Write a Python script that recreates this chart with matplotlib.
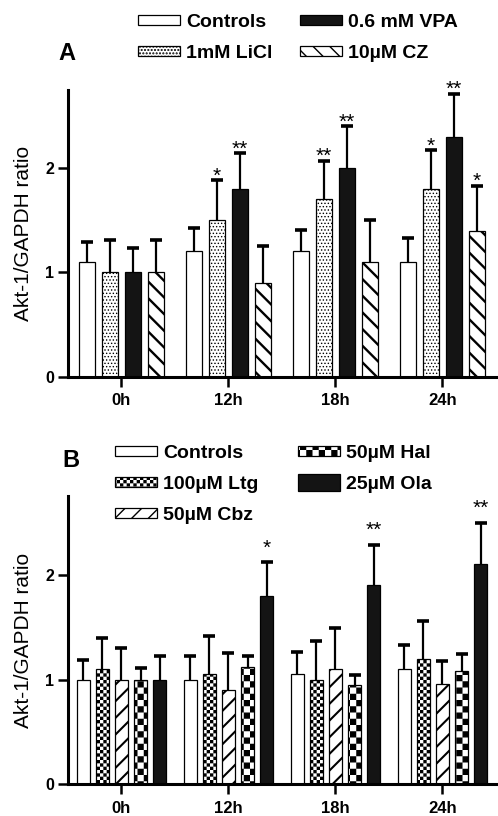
import numpy as np
import matplotlib
matplotlib.use('Agg')
import matplotlib.pyplot as plt
import matplotlib.hatch as mhatch
from matplotlib.path import Path
from matplotlib.patches import Rectangle
from matplotlib.legend_handler import HandlerPatch

plt.rcParams['font.family'] = ['Liberation Sans', 'DejaVu Sans']
plt.rcParams['font.weight'] = 'bold'
plt.rcParams['hatch.linewidth'] = 1.0

times = ['0h', '12h', '18h', '24h']

# panel A: means and upper error (SD)
a_labels = ['Controls', '1mM LiCl', '0.6 mM VPA', '10µM CZ']
a_controls = [1.10, 1.20, 1.20, 1.10]
a_licl = [1.00, 1.50, 1.70, 1.80]
a_vpa = [1.00, 1.80, 2.00, 2.30]
a_cz = [1.00, 0.90, 1.10, 1.40]
a_controls_err = [0.19, 0.22, 0.21, 0.23]
a_licl_err = [0.31, 0.38, 0.37, 0.37]
a_vpa_err = [0.23, 0.34, 0.40, 0.41]
a_cz_err = [0.31, 0.35, 0.40, 0.43]
a_controls_sig = ['', '', '', '']
a_licl_sig = ['', '*', '**', '*']
a_vpa_sig = ['', '**', '**', '**']
a_cz_sig = ['', '', '', '*']

# panel B
b_labels = ['Controls', '100µM Ltg', '50µM Cbz', '50µM Hal', '25µM Ola']
b_controls = [1.00, 1.00, 1.05, 1.10]
b_ltg = [1.10, 1.05, 1.00, 1.20]
b_cbz = [1.00, 0.90, 1.10, 0.96]
b_hal = [1.00, 1.12, 0.95, 1.08]
b_ola = [1.00, 1.80, 1.90, 2.10]
b_controls_err = [0.19, 0.23, 0.21, 0.23]
b_ltg_err = [0.30, 0.37, 0.37, 0.36]
b_cbz_err = [0.30, 0.35, 0.39, 0.22]
b_hal_err = [0.11, 0.11, 0.09, 0.16]
b_ola_err = [0.23, 0.32, 0.39, 0.40]
b_ola_sig = ['', '*', '**', '**']
no_sig = ['', '', '', '']


class CheckerHatch(mhatch.HatchPatternBase):
    # checkerboard fill, takes over the 'O' hatch letter
    def __init__(self, hatch, density):
        self.num_cells = hatch.count('O') * 2
        self.num_vertices = 5 * self.num_cells ** 2 // 2

    def set_vertices_and_codes(self, vertices, codes):
        n = self.num_cells
        step = 1.0 / n
        pad = plt.rcParams['hatch.linewidth'] / 144.0
        k = 0
        for i in range(n):
            for j in range(n):
                if (i + j) % 2:
                    continue
                x0, y0 = i * step + pad, j * step + pad
                x1, y1 = (i + 1) * step - pad, (j + 1) * step - pad
                vertices[k:k + 5] = [(x0, y0), (x1, y0), (x1, y1), (x0, y1), (x0, y0)]
                codes[k:k + 5] = [Path.MOVETO, Path.LINETO, Path.LINETO,
                                  Path.LINETO, Path.CLOSEPOLY]
                k += 5


mhatch._hatch_types[mhatch._hatch_types.index(mhatch.LargeCircles)] = CheckerHatch


def tall_box(legend, orig_handle, xdescent, ydescent, width, height, fontsize):
    # the olanzapine key is drawn taller than the others
    return Rectangle((-xdescent, -ydescent - 0.3 * height), width, 1.6 * height)


def draw_panel(ax, series, errs, sigs, labels, colors, hatches, hatch_lws,
               step, width, star_pad):
    x = np.arange(len(times))
    n = len(series)
    handles = []
    for k in range(n):
        pos = x + (k - (n - 1) / 2) * step
        with plt.rc_context({'hatch.linewidth': hatch_lws[k]}):
            b = ax.bar(pos, series[k], width, color=colors[k], edgecolor='black',
                       linewidth=0.9, hatch=hatches[k], label=labels[k], zorder=2)
        handles.append(b.patches[0])
        tops = np.array(series[k]) + np.array(errs[k])
        ax.vlines(pos, series[k], tops, color='black', lw=1.6, zorder=3)
        ax.plot(pos, tops, ls='none', marker='_', ms=8, mew=2.6,
                color='black', zorder=3)
        for p, t, s in zip(pos, tops, sigs[k]):
            if s:
                ax.annotate(s, (p, t), xytext=(0, star_pad),
                            textcoords='offset points', ha='center',
                            va='center', fontsize=15, fontweight='normal')

    ax.set_xlim(-0.5, 3.5)
    ax.set_ylim(0, 2.75)
    ax.set_xticks(x, times)
    ax.set_yticks([0, 1, 2])
    ax.tick_params(direction='out', length=7, width=1.8)
    ax.tick_params(axis='x', labelsize=12, pad=5)
    ax.tick_params(axis='y', labelsize=11.5, pad=3)
    for side in ['top', 'right']:
        ax.spines[side].set_visible(False)
    for side in ['left', 'bottom']:
        ax.spines[side].set_linewidth(2.2)
    ax.set_ylabel('Akt-1/GAPDH ratio', fontsize=15, labelpad=9)
    return handles


fig = plt.figure(figsize=(4.98, 8.16), dpi=100)

ax_a = fig.add_axes([0.1365, 0.5384, 0.8594, 0.3517])
draw_panel(ax_a,
           [a_controls, a_licl, a_vpa, a_cz],
           [a_controls_err, a_licl_err, a_vpa_err, a_cz_err],
           [a_controls_sig, a_licl_sig, a_vpa_sig, a_cz_sig],
           a_labels,
           ['white', 'white', '#141414', 'white'],
           [None, '.....', None, '\\\\'],
           [1.0, 0.6, 1.0, 1.7],
           0.215, 0.15, 3)
ax_a.legend(loc='upper left', bbox_to_anchor=(138 / 498, 1 - 14 / 816),
            bbox_transform=fig.transFigure, ncol=2, frameon=False,
            fontsize=14, handlelength=2.16, handleheight=0.46,
            handletextpad=0.3, columnspacing=1.45, labelspacing=0.72,
            borderpad=0, borderaxespad=0)
fig.text(58 / 498, 1 - 60 / 816, 'A', fontsize=17, fontweight='bold')

ax_b = fig.add_axes([0.1365, 0.0388, 0.8594, 0.3529])
handles_b = draw_panel(ax_b,
                       [b_controls, b_ltg, b_cbz, b_hal, b_ola],
                       [b_controls_err, b_ltg_err, b_cbz_err, b_hal_err, b_ola_err],
                       [no_sig, no_sig, no_sig, no_sig, b_ola_sig],
                       b_labels,
                       ['white', 'white', 'white', 'white', '#141414'],
                       [None, 'O' * 15, '//', 'O' * 8, None],
                       [1.0, 1.0, 1.5, 1.0, 1.0],
                       0.178, 0.12, 10)
ax_b.legend(handles_b, b_labels,
            loc='upper left', bbox_to_anchor=(115 / 498, 1 - 445 / 816),
            bbox_transform=fig.transFigure, ncol=2, frameon=False,
            fontsize=14, handlelength=2.16, handleheight=0.46,
            handletextpad=0.3, columnspacing=2.05, labelspacing=0.72,
            borderpad=0, borderaxespad=0,
            handler_map={handles_b[4]: HandlerPatch(patch_func=tall_box)})
fig.text(62 / 498, 1 - 467 / 816, 'B', fontsize=17, fontweight='bold')

fig.savefig('out.png', dpi=100)
